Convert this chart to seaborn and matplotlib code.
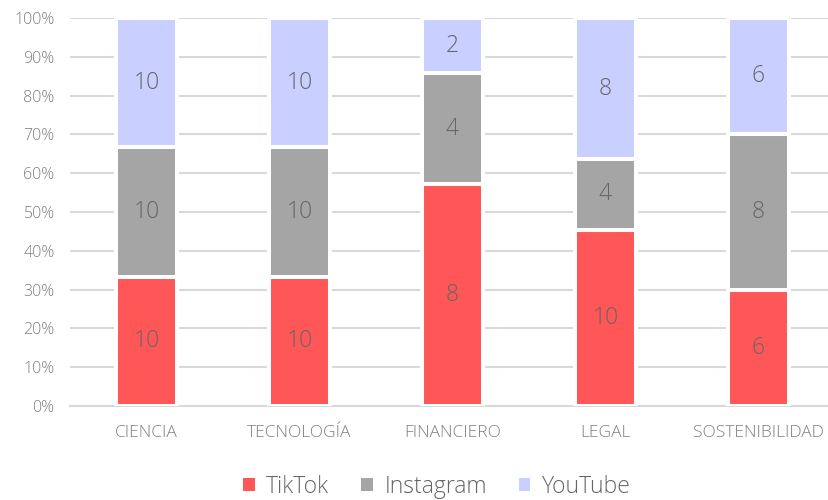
import numpy as np
import pandas as pd
import matplotlib
matplotlib.use("Agg")
import matplotlib.pyplot as plt
import seaborn as sns

categorias = ["CIENCIA", "TECNOLOGÍA", "FINANCIERO", "LEGAL", "SOSTENIBILIDAD"]
tiktok = [10, 10, 8, 10, 6]
instagram = [10, 10, 4, 4, 8]
youtube = [10, 10, 2, 8, 6]

series = ["TikTok", "Instagram", "YouTube"]
colores = {"TikTok": "#FF5757", "Instagram": "#A5A5A5", "YouTube": "#C9D0FF"}

df = pd.DataFrame({"Categoria": categorias, "TikTok": tiktok,
                   "Instagram": instagram, "YouTube": youtube})
total = df[series].sum(axis=1)
pct = df[series].div(total, axis=0) * 100

sns.set_style("white")
plt.rcParams["font.family"] = ["Open Sans", "DejaVu Sans"]
texto = "#7F7F7F"

fig = plt.figure(figsize=(8.29, 5.0), dpi=100)
ax = fig.add_axes([70 / 829, 94 / 500, 765 / 829, 388 / 500])

base = np.zeros(len(categorias))
for s in series:
    sns.barplot(x=df["Categoria"], y=pct[s], bottom=base, color=colores[s],
                saturation=1, width=0.405, edgecolor="white", linewidth=2.9,
                label=s, ax=ax, zorder=3)
    for i, (v, p) in enumerate(zip(df[s], pct[s])):
        ax.text(i, base[i] + p / 2, str(v), ha="center", va="center",
                fontsize=16.5, color="#666666", fontweight="light", zorder=4)
    base = base + pct[s].values

ax.set_xlim(-0.5, 4.5)
ax.set_ylim(0, 100)
ax.set_yticks(np.arange(0, 101, 10))
ax.set_yticklabels([f"{t}%" for t in range(0, 101, 10)])
ax.yaxis.grid(True, color="#D9D9D9", linewidth=1.5, zorder=0)
ax.set_axisbelow(True)
ax.set_xlabel("")
ax.set_ylabel("")

for side in ["top", "right", "left"]:
    ax.spines[side].set_visible(False)
ax.spines["bottom"].set_color("#D9D9D9")
ax.spines["bottom"].set_linewidth(1.5)

ax.set_xticks(np.arange(-0.5, 4.6, 1), minor=True)
ax.tick_params(axis="x", which="minor", length=5, width=1.5, color="#D9D9D9")
ax.tick_params(axis="x", which="major", length=0, pad=14, labelsize=12.5,
               labelcolor=texto)
ax.tick_params(axis="y", length=0, pad=11, labelsize=11.5, labelcolor=texto)
for lab in ax.get_xticklabels() + ax.get_yticklabels():
    lab.set_fontweight("light")

leg = ax.legend(loc="center", bbox_to_anchor=(437 / 829, 13 / 500),
                bbox_transform=fig.transFigure, ncol=3, frameon=False,
                fontsize=16.5, handlelength=0.5, handleheight=0.5,
                handletextpad=0.5, columnspacing=1.4)
for t in leg.get_texts():
    t.set_color("#666666")
    t.set_fontweight("light")
for h in leg.legend_handles:
    h.set_edgecolor("none")

fig.savefig("out.png", dpi=100)
